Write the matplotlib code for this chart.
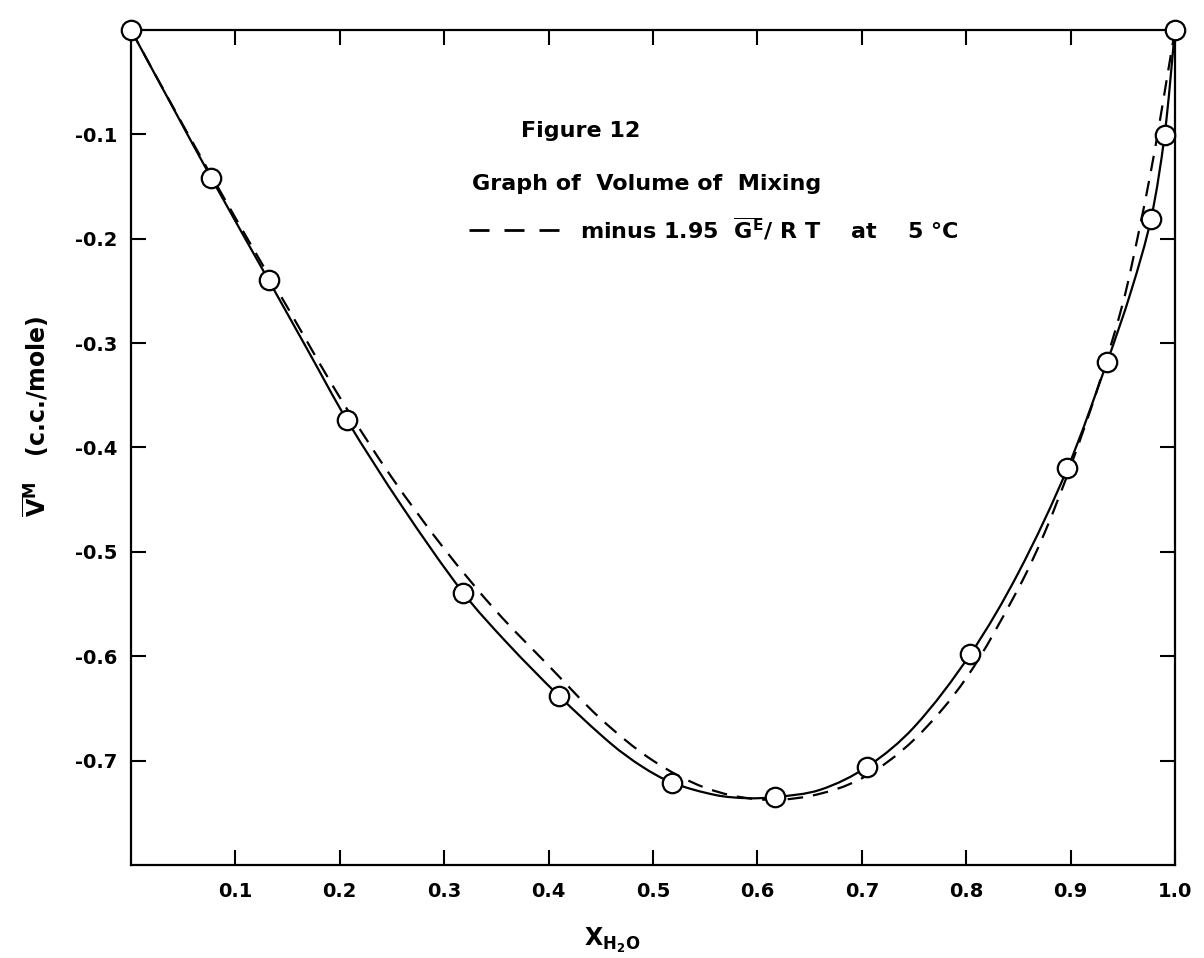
import matplotlib
matplotlib.use("Agg")
import numpy as np
import matplotlib.pyplot as plt
from matplotlib.lines import Line2D
from matplotlib.path import Path
from matplotlib.patches import PathPatch

plt.rcParams['font.family'] = ['DejaVu Sans']
plt.rcParams['font.weight'] = 'bold'
plt.rcParams['mathtext.fontset'] = 'dejavusans'

# measured points (open circles)
x_pts = [0.0, 0.077, 0.132, 0.207, 0.318, 0.41, 0.518, 0.617, 0.705, 0.804, 0.897, 0.935, 0.977, 0.990, 1.0]
v_pts = [0.0, -0.142, -0.240, -0.374, -0.539, -0.638, -0.721, -0.735, -0.706, -0.598, -0.420, -0.318, -0.181, -0.101, 0.0]

# solid curve
x_solid = [0.0, 0.04, 0.077, 0.132, 0.17, 0.207, 0.26, 0.318, 0.36, 0.41, 0.46, 0.49, 0.518, 0.56,
           0.59, 0.617, 0.66, 0.705, 0.75, 0.804, 0.85, 0.897, 0.935, 0.958, 0.977, 0.990, 1.0]
v_solid = [0.0, -0.074, -0.142, -0.240, -0.308, -0.374, -0.457, -0.539, -0.587, -0.638, -0.684,
           -0.706, -0.721, -0.733, -0.736, -0.735, -0.728, -0.706, -0.668, -0.598, -0.520, -0.420,
           -0.318, -0.250, -0.181, -0.101, 0.0]

# dashed curve: minus 1.95 G^E/RT at 5 C
x_dash = [0.0, 0.05, 0.1, 0.15, 0.2, 0.25, 0.3, 0.35, 0.4, 0.45, 0.5, 0.55, 0.6, 0.65, 0.7,
          0.75, 0.8, 0.85, 0.875, 0.9, 0.925, 0.95, 0.965, 0.977, 0.985, 0.992, 1.0]
v_dash = [0.0, -0.0915, -0.180, -0.266, -0.352, -0.429, -0.497, -0.557, -0.609, -0.660, -0.700,
          -0.726, -0.737, -0.734, -0.717, -0.680, -0.621, -0.535, -0.482, -0.418, -0.346, -0.262,
          -0.195, -0.135, -0.090, -0.048, 0.0]

x_ticks = [0.1, 0.2, 0.3, 0.4, 0.5, 0.6, 0.7, 0.8, 0.9, 1.0]
x_labels = ['0.1', '0.2', '0.3', '0.4', '0.5', '0.6', '0.7', '0.8', '0.9', '1.0']
y_ticks = [-0.1, -0.2, -0.3, -0.4, -0.5, -0.6, -0.7]
y_labels = ['-0.1', '-0.2', '-0.3', '-0.4', '-0.5', '-0.6', '-0.7']


def smooth_path(xs, ys):
    # hand-drawn look: cubic Bezier pieces through the read points
    pts = np.column_stack([xs, ys])
    n = len(pts)
    tang = np.zeros_like(pts)
    for i in range(n):
        d = pts[min(i + 1, n - 1)] - pts[max(i - 1, 0)]
        tang[i] = d / np.hypot(*d)
    verts = [pts[0]]
    codes = [Path.MOVETO]
    for i in range(n - 1):
        seg = np.hypot(*(pts[i + 1] - pts[i]))
        verts += [pts[i] + tang[i] * seg / 3, pts[i + 1] - tang[i + 1] * seg / 3, pts[i + 1]]
        codes += [Path.CURVE4] * 3
    return Path(verts, codes)


fig = plt.figure(figsize=(12.04, 9.58), dpi=100)
ax = fig.add_axes([0.1088, 0.0971, 0.8671, 0.8716])

ax.add_patch(PathPatch(smooth_path(x_solid, v_solid), fill=False, edgecolor='black', lw=1.6))
ax.add_patch(PathPatch(smooth_path(x_dash, v_dash), fill=False, edgecolor='black', lw=1.6,
                       linestyle=(0, (7, 4.5))))
ax.plot(x_pts, v_pts, linestyle='none', marker='o', markersize=14, markerfacecolor='white',
        markeredgecolor='black', markeredgewidth=1.6, clip_on=False, zorder=5)

ax.set_xlim(0, 1.0)
ax.set_ylim(-0.8, 0)
ax.set_xticks(x_ticks)
ax.set_xticklabels(x_labels)
ax.set_yticks(y_ticks)
ax.set_yticklabels(y_labels)
ax.tick_params(direction='in', length=11, width=1.5, top=True, right=True, labelsize=14)
ax.tick_params(axis='x', pad=12)
ax.tick_params(axis='y', pad=10)
for s in ax.spines.values():
    s.set_linewidth(1.6)

fig.text(36 / 1204, 1 - 416 / 958, r'$\overline{\mathbf{V}}^{\mathbf{M}}$   (c.c./mole)',
         rotation=90, ha='center', va='center', fontsize=17)
fig.text(612 / 1204, 1 - 940 / 958, r'$\mathbf{X}_{\mathbf{H_2O}}$', ha='center', va='center', fontsize=17)

fig.text(521 / 1204, 1 - 131 / 958, 'Figure 12', ha='left', va='center', fontsize=16)
fig.text(472 / 1204, 1 - 184 / 958, 'Graph of  Volume of  Mixing', ha='left', va='center', fontsize=16)

legend_handle = Line2D([], [], color='black', lw=2.0, dashes=(7.2, 5.4))
ax.legend([legend_handle],
          [r'minus 1.95  $\overline{\mathbf{G}}^{\mathbf{E}}$/ R T    at    5 °C'],
          loc='center left', bbox_to_anchor=(469 / 1204, 1 - 229 / 958), bbox_transform=fig.transFigure,
          frameon=False, borderpad=0, borderaxespad=0, handlelength=4.1, handletextpad=0.9,
          fontsize=16)

fig.savefig('out.png', dpi=100, facecolor='white')
